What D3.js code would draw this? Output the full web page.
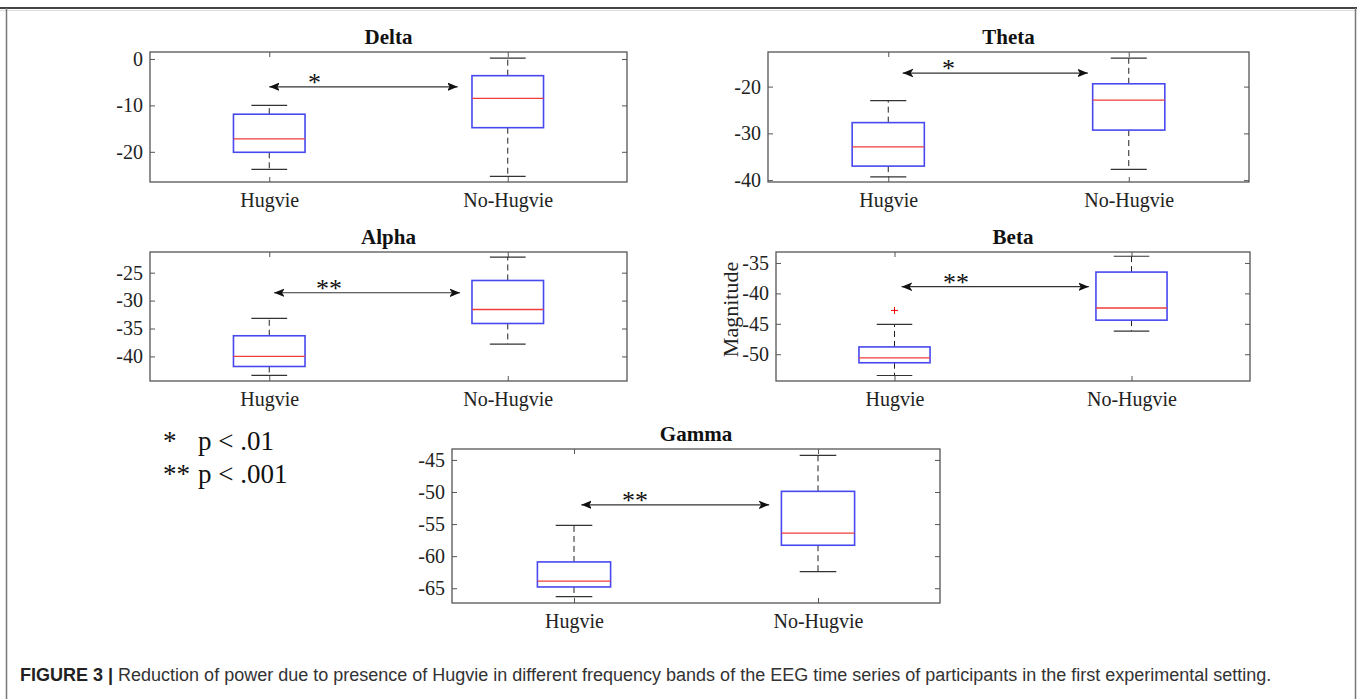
<!DOCTYPE html>
<html>
<head>
<meta charset="utf-8">
<script src="https://cdn.jsdelivr.net/npm/d3@7"></script>
<style>
  body { margin: 0; background: #fff; }
  svg { display: block; }
</style>
</head>
<body>
<div id="chart"></div>
<script>
// Data
const bands = ["Delta", "Theta", "Alpha", "Beta", "Gamma"];
const groups = ["Hugvie", "No-Hugvie"];

// [lower whisker, Q1, median, Q3, upper whisker] for Hugvie, No-Hugvie
const deltaStats = [[-23.8, -20.1, -17.2, -11.9, -10.0], [-25.3, -14.8, -8.5, -3.6, 0.2]];
const thetaStats = [[-39.3, -37.0, -32.9, -27.7, -23.0], [-37.7, -29.3, -22.9, -19.4, -13.9]];
const alphaStats = [[-43.4, -41.8, -40.0, -36.3, -33.2], [-37.8, -34.1, -31.6, -26.4, -22.2]];
const betaStats = [[-53.5, -51.4, -50.6, -48.8, -45.1], [-46.2, -44.4, -42.4, -36.5, -33.9]];
const gammaStats = [[-66.3, -64.8, -63.9, -60.9, -55.2], [-62.4, -58.3, -56.4, -49.9, -44.3]];

// outliers: [group, value]
const deltaOutliers = [];
const thetaOutliers = [];
const alphaOutliers = [];
const betaOutliers = [["Hugvie", -42.8]];
const gammaOutliers = [];

const yLimits = [[-26.5, 1.5], [-40.4, -12.6], [-44.4, -21.3], [-54.4, -33.2], [-67.3, -43.3]];
const yTicks = [[0, -10, -20], [-20, -30, -40], [-25, -30, -35, -40], [-35, -40, -45, -50], [-45, -50, -55, -60, -65]];

// significance arrows (level, x span in group units, star text)
const arrowLevels = [-6.0, -17.1, -28.6, -38.9, -52.0];
const arrowSpans = [[1.0, 1.79], [1.06, 1.83], [1.02, 1.80], [1.03, 1.82], [1.03, 1.80]];
const starLabels = ["*", "*", "**", "**", "**"];
const starPos = [1.19, 1.25, 1.25, 1.26, 1.25];

const legendRows = [["*", "p < .01"], ["**", "p < .001"]];
const captionBold = "FIGURE 3 |";
const captionText = " Reduction of power due to presence of Hugvie in different frequency bands of the EEG time series of participants in the first experimental setting.";

const allStats = [deltaStats, thetaStats, alphaStats, betaStats, gammaStats];
const allOutliers = [deltaOutliers, thetaOutliers, alphaOutliers, betaOutliers, gammaOutliers];

// Layout
const W = 1357, H = 699;
const panels = [
  { x: 150, y: 52, w: 477, h: 130 },
  { x: 768, y: 52, w: 481, h: 130 },
  { x: 150, y: 252, w: 477, h: 129 },
  { x: 776, y: 252, w: 474, h: 129 },
  { x: 452, y: 449, w: 488, h: 154 }
];
const serif = "'Liberation Serif', 'Times New Roman', serif";
const axisColor = "#555";

const svg = d3.select("#chart").append("svg")
  .attr("width", W)
  .attr("height", H);

// arrow head
const defs = svg.append("defs");
["start", "end"].forEach(function (k) {
  defs.append("marker")
    .attr("id", "head-" + k)
    .attr("viewBox", "-10 -5 12 10")
    .attr("refX", 0).attr("refY", 0)
    .attr("markerWidth", 12).attr("markerHeight", 10)
    .attr("markerUnits", "userSpaceOnUse")
    .attr("orient", k === "end" ? "auto" : "auto-start-reverse")
    .append("path")
    .attr("d", "M0,0 L-11,-4.5 L-8,0 L-11,4.5 Z")
    .attr("fill", "#111");
});

// figure frame
svg.append("line").attr("x1", 0).attr("x2", W).attr("y1", 8).attr("y2", 8)
  .attr("stroke", "#444").attr("stroke-width", 2);
svg.append("line").attr("x1", 0).attr("x2", W).attr("y1", 10.5).attr("y2", 10.5)
  .attr("stroke", "#ddd").attr("stroke-width", 1);
svg.append("line").attr("x1", 6.5).attr("x2", 6.5).attr("y1", 8).attr("y2", H)
  .attr("stroke", "#777").attr("stroke-width", 1.5);
svg.append("line").attr("x1", 1355.5).attr("x2", 1355.5).attr("y1", 8).attr("y2", H)
  .attr("stroke", "#777").attr("stroke-width", 1.5);

bands.forEach(function (band, i) {
  const p = panels[i];
  const stats = allStats[i];

  const x = d3.scaleLinear().domain([0.5, 2.5]).range([p.x, p.x + p.w]);
  const y = d3.scaleLinear().domain(yLimits[i]).range([p.y + p.h, p.y]);
  const g = svg.append("g");

  // frame
  g.append("rect")
    .attr("x", p.x).attr("y", p.y)
    .attr("width", p.w).attr("height", p.h)
    .attr("fill", "none").attr("stroke", axisColor).attr("stroke-width", 1.3);

  // y axis left (ticks inward)
  const yl = g.append("g")
    .attr("transform", `translate(${p.x},0)`)
    .call(d3.axisLeft(y).tickValues(yTicks[i]).tickSize(-5).tickPadding(7).tickFormat(d => String(d)));
  yl.select(".domain").remove();
  yl.selectAll("line").attr("stroke", axisColor);
  yl.selectAll("text").attr("font-family", serif).attr("font-size", 20).attr("fill", "#222");

  // y axis right ticks
  const yr = g.append("g")
    .attr("transform", `translate(${p.x + p.w},0)`)
    .call(d3.axisRight(y).tickValues(yTicks[i]).tickSize(-5).tickFormat(""));
  yr.select(".domain").remove();
  yr.selectAll("line").attr("stroke", axisColor);

  // x axis bottom
  const xb = g.append("g")
    .attr("transform", `translate(0,${p.y + p.h})`)
    .call(d3.axisBottom(x).tickValues([1, 2]).tickSize(-5).tickPadding(11).tickFormat(d => groups[d - 1]));
  xb.select(".domain").remove();
  xb.selectAll("line").attr("stroke", axisColor);
  xb.selectAll("text").attr("font-family", serif).attr("font-size", 20).attr("fill", "#222");

  // x axis top ticks
  const xt = g.append("g")
    .attr("transform", `translate(0,${p.y})`)
    .call(d3.axisTop(x).tickValues([1, 2]).tickSize(-5).tickFormat(""));
  xt.select(".domain").remove();
  xt.selectAll("line").attr("stroke", axisColor);

  // title
  g.append("text")
    .attr("x", p.x + p.w / 2).attr("y", p.y - 8)
    .attr("text-anchor", "middle")
    .attr("font-family", serif).attr("font-size", 21).attr("font-weight", "bold")
    .attr("fill", "#111")
    .text(band);

  // boxes
  const halfBox = 0.15;
  const halfCap = 0.075;
  const boxes = g.selectAll(".box").data(stats).enter().append("g").attr("class", "box");

  boxes.append("line") // upper whisker
    .attr("x1", (d, j) => x(j + 1)).attr("x2", (d, j) => x(j + 1))
    .attr("y1", d => y(d[3])).attr("y2", d => y(d[4]))
    .attr("stroke", "#222").attr("stroke-width", 1).attr("stroke-dasharray", "6,4");
  boxes.append("line") // lower whisker
    .attr("x1", (d, j) => x(j + 1)).attr("x2", (d, j) => x(j + 1))
    .attr("y1", d => y(d[1])).attr("y2", d => y(d[0]))
    .attr("stroke", "#222").attr("stroke-width", 1).attr("stroke-dasharray", "6,4");
  [0, 4].forEach(function (k) {
    boxes.append("line") // caps
      .attr("x1", (d, j) => x(j + 1 - halfCap)).attr("x2", (d, j) => x(j + 1 + halfCap))
      .attr("y1", d => y(d[k])).attr("y2", d => y(d[k]))
      .attr("stroke", "#333").attr("stroke-width", 1.2);
  });
  boxes.append("rect")
    .attr("x", (d, j) => x(j + 1 - halfBox))
    .attr("y", d => y(d[3]))
    .attr("width", (d, j) => x(j + 1 + halfBox) - x(j + 1 - halfBox))
    .attr("height", d => y(d[1]) - y(d[3]))
    .attr("fill", "#fff").attr("stroke", "#4848f0").attr("stroke-width", 1.6);
  boxes.append("line") // median
    .attr("x1", (d, j) => x(j + 1 - halfBox)).attr("x2", (d, j) => x(j + 1 + halfBox))
    .attr("y1", d => y(d[2])).attr("y2", d => y(d[2]))
    .attr("stroke", "#f03c3c").attr("stroke-width", 1.3);

  // outliers
  g.selectAll(".out").data(allOutliers[i]).enter().append("path")
    .attr("class", "out")
    .attr("transform", d => `translate(${x(groups.indexOf(d[0]) + 1)},${y(d[1])})`)
    .attr("d", "M-3.5,0 H3.5 M0,-3.5 V3.5")
    .attr("stroke", "#e00").attr("stroke-width", 1);

  // significance arrow
  g.append("line")
    .attr("x1", x(arrowSpans[i][0])).attr("x2", x(arrowSpans[i][1]))
    .attr("y1", y(arrowLevels[i])).attr("y2", y(arrowLevels[i]))
    .attr("stroke", "#333").attr("stroke-width", 1.2)
    .attr("marker-start", "url(#head-start)")
    .attr("marker-end", "url(#head-end)");
  g.append("text")
    .attr("x", x(starPos[i])).attr("y", y(arrowLevels[i]) + 4)
    .attr("text-anchor", "middle")
    .attr("font-family", serif).attr("font-size", 26)
    .attr("fill", "#111")
    .text(starLabels[i]);

  // y label on Beta panel
  if (band === "Beta") {
    g.append("text")
      .attr("transform", `translate(${p.x - 38},${p.y + p.h / 2 - 7}) rotate(-90)`)
      .attr("text-anchor", "middle")
      .attr("font-family", serif).attr("font-size", 22)
      .attr("fill", "#222")
      .text("Magnitude");
  }
});

// significance legend
const legend = svg.append("g").attr("font-family", serif).attr("font-size", 27).attr("fill", "#111");
legendRows.forEach(function (r, k) {
  legend.append("text").attr("x", 163).attr("y", 450 + k * 33).text(r[0]);
  legend.append("text").attr("x", 198).attr("y", 450 + k * 33).text(r[1]);
});

// caption
const cap = svg.append("text")
  .attr("x", 20).attr("y", 681)
  .attr("font-family", "'Liberation Sans', Arial, sans-serif")
  .attr("font-size", 18).attr("fill", "#333");
cap.append("tspan").attr("font-weight", "bold").attr("fill", "#222").text(captionBold);
cap.append("tspan").text(captionText);
</script>
</body>
</html>
